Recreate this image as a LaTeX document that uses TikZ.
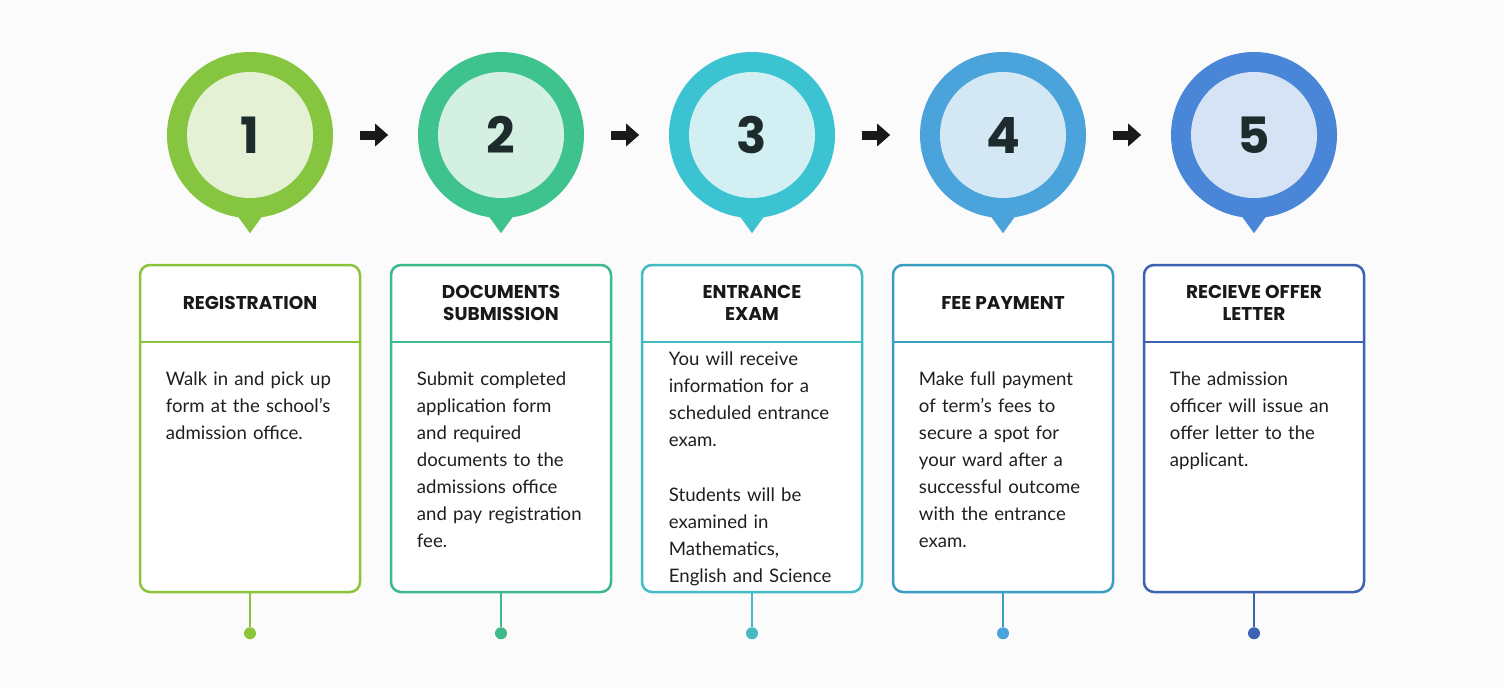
\documentclass[tikz,border=0pt]{standalone}
\usepackage{fontspec}
\setmainfont{Lato}
\newfontfamily\numfont{Poppins}
\usetikzlibrary{arrows.meta,calc}

\definecolor{pageback}{HTML}{FAFBFA}
\definecolor{numdark}{HTML}{1D2B2C}
% one colour set per step: ring, inner disc, card line
\definecolor{ringA}{HTML}{86C540}\definecolor{discA}{HTML}{E4F1D5}\definecolor{lineA}{HTML}{8CC43C}
\definecolor{ringB}{HTML}{3EC28E}\definecolor{discB}{HTML}{D3F0E3}\definecolor{lineB}{HTML}{3DB98A}
\definecolor{ringC}{HTML}{3CC3D2}\definecolor{discC}{HTML}{D2EFF3}\definecolor{lineC}{HTML}{43BAC4}
\definecolor{ringD}{HTML}{4AA3DA}\definecolor{discD}{HTML}{D4E7F4}\definecolor{lineD}{HTML}{3C9DC3}
\definecolor{ringE}{HTML}{4A86D8}\definecolor{discE}{HTML}{D6E3F5}\definecolor{lineE}{HTML}{3D62B3}

\begin{document}
\begin{tikzpicture}[x=1pt,y=1pt,
  pin/.style={circle, minimum size=166pt, inner sep=0pt},
  core/.style={circle, minimum size=126pt, inner sep=0pt, text=numdark,
    font=\numfont\bfseries\fontsize{50}{50}\selectfont},
  card/.style={rectangle, rounded corners=10pt, line width=2.5pt, fill=white,
    minimum width=220pt, minimum height=327pt, inner sep=0pt},
  head/.style={align=center, inner sep=0pt, text=black!90,
    font=\numfont\bfseries\fontsize{18.5}{22}\selectfont},
  body/.style={anchor=north west, align=left, text width=190pt, inner sep=0pt,
    text=black!88, font=\fontsize{18.6}{27}\selectfont},
  dot/.style={circle, minimum size=12pt, inner sep=0pt},
  nextarrow/.style={line width=9pt, black!90, -{Triangle[length=13pt,width=22pt]}}]

\fill[pageback] (0,0) rectangle (1504,-688);
\useasboundingbox (0,0) rectangle (1504,-688);

% step 1
\node[pin, fill=ringA] (pin1) at (250,-135){};
\fill[ringA] ($(pin1.south)+(-18,10)$) -- ($(pin1.south)+(0,-15)$) -- ($(pin1.south)+(18,10)$) -- cycle;
\node[core, fill=discA] (num1) at (pin1){1};
\node[card, draw=lineA] (card1) at (250,-428.5){};
\draw[lineA, line width=2.5pt] ([yshift=-78]card1.north west) -- ([yshift=-78]card1.north east);
\node[head] (head1) at ([yshift=-39]card1.north){REGISTRATION};
\node[body] (text1) at ([xshift=27,yshift=-108]card1.north west){Walk in and pick up\\form at the school’s\\admission office.};
\node[dot, fill=lineA] (dot1) at ([yshift=-40]card1.south){};
\draw[lineA, line width=2.5pt] (card1.south) -- (dot1);

% step 2
\node[pin, fill=ringB] (pin2) at (501,-135){};
\fill[ringB] ($(pin2.south)+(-18,10)$) -- ($(pin2.south)+(0,-15)$) -- ($(pin2.south)+(18,10)$) -- cycle;
\node[core, fill=discB] (num2) at (pin2){2};
\node[card, draw=lineB] (card2) at (501,-428.5){};
\draw[lineB, line width=2.5pt] ([yshift=-78]card2.north west) -- ([yshift=-78]card2.north east);
\node[head] (head2) at ([yshift=-39]card2.north){DOCUMENTS\\SUBMISSION};
\node[body] (text2) at ([xshift=27,yshift=-108]card2.north west){Submit completed\\application form\\and required\\documents to the\\admissions office\\and pay registration\\fee.};
\node[dot, fill=lineB] (dot2) at ([yshift=-40]card2.south){};
\draw[lineB, line width=2.5pt] (card2.south) -- (dot2);

% step 3
\node[pin, fill=ringC] (pin3) at (752,-135){};
\fill[ringC] ($(pin3.south)+(-18,10)$) -- ($(pin3.south)+(0,-15)$) -- ($(pin3.south)+(18,10)$) -- cycle;
\node[core, fill=discC] (num3) at (pin3){3};
\node[card, draw=lineC] (card3) at (752,-428.5){};
\draw[lineC, line width=2.5pt] ([yshift=-78]card3.north west) -- ([yshift=-78]card3.north east);
\node[head] (head3) at ([yshift=-39]card3.north){ENTRANCE\\EXAM};
\node[body] (text3) at ([xshift=28,yshift=-88]card3.north west){You will receive\\information for a\\scheduled entrance\\exam.\\[28pt]Students will be\\examined in\\Mathematics,\\English and Science};
\node[dot, fill=lineC] (dot3) at ([yshift=-40]card3.south){};
\draw[lineC, line width=2.5pt] (card3.south) -- (dot3);

% step 4
\node[pin, fill=ringD] (pin4) at (1003,-135){};
\fill[ringD] ($(pin4.south)+(-18,10)$) -- ($(pin4.south)+(0,-15)$) -- ($(pin4.south)+(18,10)$) -- cycle;
\node[core, fill=discD] (num4) at (pin4){4};
\node[card, draw=lineD] (card4) at (1003,-428.5){};
\draw[lineD, line width=2.5pt] ([yshift=-78]card4.north west) -- ([yshift=-78]card4.north east);
\node[head] (head4) at ([yshift=-39]card4.north){FEE PAYMENT};
\node[body] (text4) at ([xshift=27,yshift=-108]card4.north west){Make full payment\\of term’s fees to\\secure a spot for\\your ward after a\\successful outcome\\with the entrance\\exam.};
\node[dot, fill=ringD] (dot4) at ([yshift=-40]card4.south){};
\draw[lineD, line width=2.5pt] (card4.south) -- (dot4);

% step 5
\node[pin, fill=ringE] (pin5) at (1254,-135){};
\fill[ringE] ($(pin5.south)+(-18,10)$) -- ($(pin5.south)+(0,-15)$) -- ($(pin5.south)+(18,10)$) -- cycle;
\node[core, fill=discE] (num5) at (pin5){5};
\node[card, draw=lineE] (card5) at (1254,-428.5){};
\draw[lineE, line width=2.5pt] ([yshift=-78]card5.north west) -- ([yshift=-78]card5.north east);
\node[head] (head5) at ([yshift=-39]card5.north){RECIEVE OFFER\\LETTER};
\node[body] (text5) at ([xshift=27,yshift=-108]card5.north west){The admission\\officer will issue an\\offer letter to the\\applicant.};
\node[dot, fill=lineE] (dot5) at ([yshift=-40]card5.south){};
\draw[lineE, line width=2.5pt] (card5.south) -- (dot5);

% arrows between the pins
\draw[nextarrow] ([xshift=27]pin1.east) -- ([xshift=55]pin1.east);
\draw[nextarrow] ([xshift=27]pin2.east) -- ([xshift=55]pin2.east);
\draw[nextarrow] ([xshift=27]pin3.east) -- ([xshift=55]pin3.east);
\draw[nextarrow] ([xshift=27]pin4.east) -- ([xshift=55]pin4.east);

\end{tikzpicture}
\end{document}
